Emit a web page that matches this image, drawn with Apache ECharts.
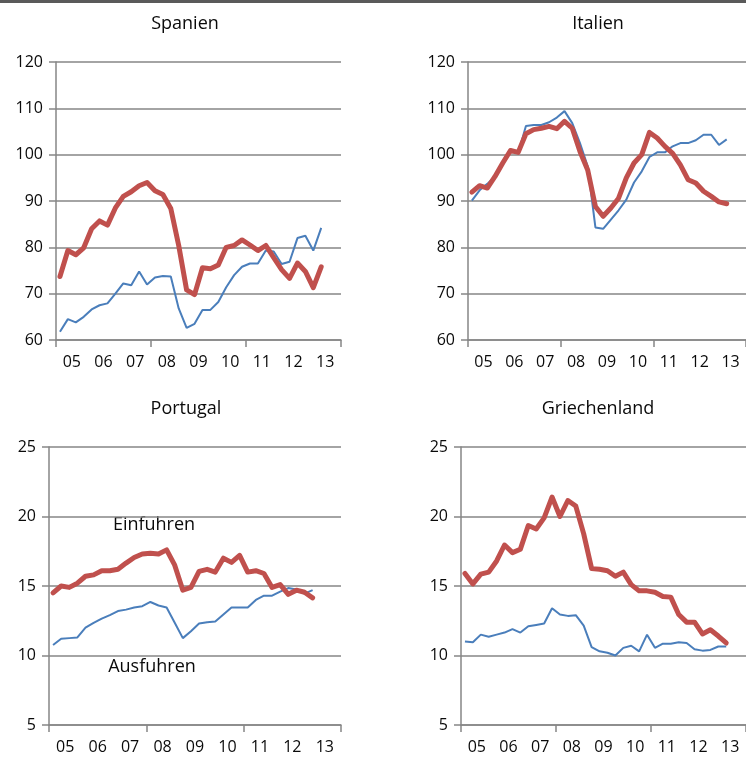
<!DOCTYPE html>
<html>
<head>
<meta charset="utf-8">
<script src="https://cdn.jsdelivr.net/npm/echarts@6/dist/echarts.min.js"></script>
<style>
  html, body { margin: 0; padding: 0; background: #fff; }
  #chart { width: 746px; height: 758px; }
</style>
</head>
<body>
<div id="chart"></div>
<script>
// quarters 2005 Q1 .. 2013 Q4 (36 slots), years shown as labels
var years = ["05", "06", "07", "08", "09", "10", "11", "12", "13"];
var quarters = [];
years.forEach(function (y) {
  for (var q = 1; q <= 4; q++) quarters.push(y + "Q" + q);
});

// Spanien (Index)
var spainImports = [73.7, 79.3, 78.4, 79.9, 84.0, 85.7, 84.8, 88.5, 91.0, 92.0, 93.3, 94.0,
  92.2, 91.4, 88.4, 80.4, 70.8, 69.8, 75.6, 75.4, 76.2, 80.0, 80.4, 81.6,
  80.5, 79.3, 80.4, 77.8, 75.2, 73.3, 76.6, 74.8, 71.3, 75.8];
var spainExports = [61.8, 64.5, 63.8, 65.0, 66.6, 67.5, 67.9, 70.0, 72.2, 71.8, 74.8, 72.0,
  73.5, 73.8, 73.7, 66.8, 62.6, 63.5, 66.5, 66.5, 68.2, 71.4, 74.0, 75.8,
  76.5, 76.5, 79.3, 79.1, 76.4, 76.9, 82.0, 82.5, 79.3, 84.2];

// Italien (Index)
var italyImports = [91.9, 93.3, 92.8, 95.3, 98.2, 100.9, 100.5, 104.5, 105.4, 105.7, 106.1, 105.6,
  107.2, 105.7, 100.7, 96.7, 88.8, 86.7, 88.5, 90.6, 95.0, 98.2, 100.0, 104.8,
  103.6, 101.8, 100.3, 97.8, 94.6, 93.9, 92.1, 91.0, 89.8, 89.4];
var italyExports = [90.1, 92.3, 93.7, 95.3, 98.2, 100.7, 100.3, 106.2, 106.4, 106.4, 107.0, 108.0,
  109.4, 106.8, 102.5, 97.5, 84.3, 84.0, 86.0, 88.0, 90.3, 94.0, 96.4, 99.5,
  100.5, 100.5, 101.8, 102.5, 102.5, 103.1, 104.3, 104.3, 102.1, 103.3];

// Portugal (Mrd)
var portugalImports = [14.5, 15.0, 14.9, 15.2, 15.7, 15.8, 16.1, 16.1, 16.2, 16.65, 17.05, 17.3,
  17.35, 17.3, 17.6, 16.5, 14.7, 14.9, 16.05, 16.2, 16.0, 17.0, 16.7, 17.2,
  16.0, 16.1, 15.9, 14.9, 15.1, 14.4, 14.7, 14.55, 14.15];
var portugalExports = [10.75, 11.2, 11.25, 11.3, 12.0, 12.35, 12.65, 12.9, 13.2, 13.3, 13.45, 13.55,
  13.85, 13.6, 13.45, 12.35, 11.25, 11.75, 12.3, 12.4, 12.45, 12.95, 13.45, 13.45,
  13.45, 14.0, 14.3, 14.3, 14.6, 14.85, 14.75, 14.45, 14.7];

// Griechenland (Mrd)
var greeceImports = [15.9, 15.15, 15.85, 16.0, 16.8, 17.95, 17.4, 17.65, 19.35, 19.1, 19.9, 21.4,
  20.0, 21.15, 20.75, 18.75, 16.25, 16.2, 16.1, 15.7, 16.0, 15.1, 14.65, 14.65,
  14.55, 14.25, 14.2, 12.95, 12.4, 12.4, 11.55, 11.85, 11.4, 10.9];
var greeceExports = [11.0, 10.95, 11.5, 11.35, 11.5, 11.65, 11.9, 11.65, 12.1, 12.2, 12.3, 13.4,
  12.95, 12.85, 12.9, 12.15, 10.6, 10.3, 10.2, 10.0, 10.55, 10.7, 10.3, 11.5,
  10.55, 10.85, 10.85, 10.95, 10.9, 10.45, 10.35, 10.4, 10.65, 10.65];

var panels = [
  { title: "Spanien", imp: spainImports, exp: spainExports, min: 60, max: 120, step: 10,
    grid: { left: 56, top: 62, width: 285, height: 278 }, titleX: 180, titleY: 19 },
  { title: "Italien", imp: italyImports, exp: italyExports, min: 60, max: 120, step: 10,
    grid: { left: 468, top: 62, width: 285, height: 278 }, titleX: 593, titleY: 19 },
  { title: "Portugal", imp: portugalImports, exp: portugalExports, min: 5, max: 25, step: 5,
    grid: { left: 49, top: 447, width: 292, height: 278 }, titleX: 181, titleY: 404 },
  { title: "Griechenland", imp: greeceImports, exp: greeceExports, min: 5, max: 25, step: 5,
    grid: { left: 461, top: 447, width: 292, height: 278 }, titleX: 593, titleY: 404 }
];

var RED = "#c0504d";
var BLUE = "#4a7ebb";
var GRAY = "#868686";
var INK = "#0a0a0a";
var FONT = "'Open Sans', 'Noto Sans', sans-serif";

var option = {
  animation: false,
  backgroundColor: "#fff",
  textStyle: { fontFamily: FONT },
  title: [],
  grid: [],
  xAxis: [],
  yAxis: [],
  series: [],
  graphic: [
    { type: "rect", shape: { x: 0, y: 0, width: 746, height: 3 }, style: { fill: "#5a5a5a" } },
    { type: "text", x: 154, y: 525, style: { text: "Einfuhren", fill: INK, font: "18px " + FONT, textAlign: "center", textVerticalAlign: "middle" } },
    { type: "text", x: 152, y: 667, style: { text: "Ausfuhren", fill: INK, font: "18px " + FONT, textAlign: "center", textVerticalAlign: "middle" } }
  ]
};

panels.forEach(function (p, k) {
  option.title.push({
    text: p.title, left: p.titleX, top: p.titleY, textAlign: "center", textVerticalAlign: "middle",
    textStyle: { fontFamily: FONT, fontSize: 18, fontWeight: "normal", color: INK }
  });
  option.grid.push(p.grid);
  // quarter axis: carries the lines and the tick every three years
  option.xAxis.push({
    type: "category", gridIndex: k, data: quarters, boundaryGap: true,
    axisLine: { lineStyle: { color: GRAY, width: 1.5 } },
    axisTick: { show: true, interval: 11, length: 7, lineStyle: { color: GRAY, width: 1.5 } },
    axisLabel: { show: false },
    splitLine: { show: false }
  });
  // year axis: only the labels, centred on each year
  option.xAxis.push({
    type: "category", gridIndex: k, data: years, boundaryGap: true, position: "bottom",
    axisLine: { show: false }, axisTick: { show: false },
    axisLabel: { fontSize: 16, color: INK, margin: 14, fontFamily: FONT, interval: 0 }
  });
  option.yAxis.push({
    type: "value", gridIndex: k, min: p.min, max: p.max, interval: p.step,
    axisLine: { show: true, lineStyle: { color: GRAY, width: 1.5 } },
    axisTick: { show: true, length: 7, lineStyle: { color: GRAY, width: 1.5 } },
    axisLabel: { fontSize: 16, color: INK, margin: 13, fontFamily: FONT },
    splitLine: { lineStyle: { color: GRAY, width: 1.5 } }
  });
  option.series.push({
    type: "line", xAxisIndex: k * 2, yAxisIndex: k, data: p.exp, symbol: "none",
    lineStyle: { color: BLUE, width: 2 }, z: 3
  });
  option.series.push({
    type: "line", xAxisIndex: k * 2, yAxisIndex: k, data: p.imp, symbol: "none",
    lineStyle: { color: RED, width: 5, join: "round", cap: "round" }, z: 4
  });
});

var chart = echarts.init(document.getElementById("chart"), null, { renderer: "canvas" });
chart.setOption(option);
</script>
</body>
</html>
